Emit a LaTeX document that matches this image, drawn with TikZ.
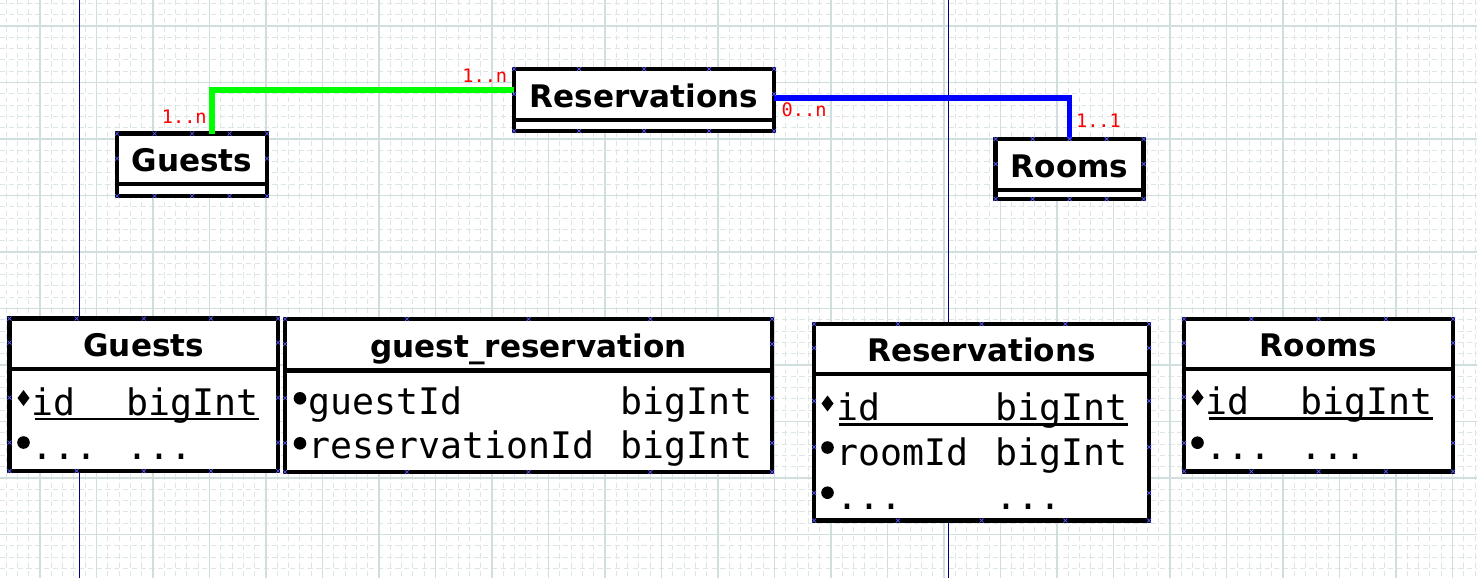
\documentclass[tikz,border=0pt]{standalone}
\usepackage{fontspec}
\setsansfont{DejaVu Sans}
\setmonofont{DejaVu Sans Mono}
\usetikzlibrary{calc}

\newlength\px
\setlength\px{0.02cm}

\definecolor{gridmajor}{RGB}{208,222,222}
\definecolor{gridminor}{RGB}{220,230,230}
\definecolor{pageline}{RGB}{0,0,139}
\definecolor{cpblue}{RGB}{90,90,255}

\tikzset{
  entity/.style={draw=black, fill=white, line width=2.8pt, outer sep=0pt, inner sep=0pt},
  header/.style={anchor=base, inner sep=0pt, font=\sffamily\bfseries\fontsize{17.7}{20}\selectfont},
  attr/.style={anchor=base west, inner sep=0pt, font=\ttfamily\fontsize{20.8}{24}\selectfont},
  card/.style={anchor=base west, inner sep=0pt, text=red, font=\ttfamily\fontsize{10.6}{12}\selectfont},
  link/.style={line width=3.3pt},
  sepline/.style={line width=2.8pt},
  uline/.style={line width=1.2pt},
  cpmark/.style={draw=cpblue, line width=0.4pt},
  minorline/.style={draw=gridminor, line width=0.6pt, dash pattern=on 3pt off 2pt},
  majorline/.style={draw=gridmajor, line width=0.6pt},
}

% small markers
\newcommand\cpt[1]{\draw[cpmark] (#1) +(-2,-2) -- +(2,2) +(-2,2) -- +(2,-2);}
\newcommand\boxmarks[2]{%
  \foreach \f in {0,0.25,0.5,0.75,1} {\cpt{$(#1.north west)!\f!(#1.north east)$}\cpt{$(#1.south west)!\f!(#1.south east)$}}
  \foreach \d in {#2} {\cpt{$(#1.north west)+(0,\d)$}\cpt{$(#1.north east)+(0,\d)$}}}
\newcommand\keymark[1]{\fill (#1) +(0,-8) -- +(6,0) -- +(0,8) -- +(-6,0) -- cycle;}
\newcommand\dotmark[1]{\fill (#1) circle[radius=6.3];}

\begin{document}
\begin{tikzpicture}[x=0.02cm, y=-0.02cm]
  \useasboundingbox (0,0) rectangle (1477,578);
  \fill[white] (0,0) rectangle (1477,578);
  % Grid
  \foreach \i in {0,...,130} \draw[minorline] (6.1+11.3*\i,0) -- (6.1+11.3*\i,578);
  \foreach \j in {0,...,50} \draw[minorline] (0,3.4+11.3*\j) -- (1477,3.4+11.3*\j);
  \foreach \i in {0,...,25} \draw[majorline] (40+56.5*\i,0) -- (40+56.5*\i,578);
  \foreach \j in {0,...,9} \draw[majorline] (0,26+56.5*\j) -- (1477,26+56.5*\j);
  \draw[pageline, line width=0.7pt] (79.3,0) -- (79.3,578);
  \draw[pageline, line width=0.7pt] (948.3,0) -- (948.3,578);

  % Entities
  \node[entity, minimum width=260\px, minimum height=62\px] (resTop) at (644,100) {};
  \draw[sepline] ($(resTop.north west)+(0,51)$) -- ($(resTop.north east)+(0,51)$);
  \node[header] (resTopHd) at ($(resTop.north)+(0,38.3)$) {Reservations};
  \node[entity, minimum width=150\px, minimum height=62.5\px] (guestsTop) at (192,164.75) {};
  \draw[sepline] ($(guestsTop.north west)+(0,50.5)$) -- ($(guestsTop.north east)+(0,50.5)$);
  \node[header] (guestsTopHd) at ($(guestsTop.north)+(0,38)$) {Guests};
  \node[entity, minimum width=148\px, minimum height=60\px] (roomsTop) at (1069.5,169) {};
  \draw[sepline] ($(roomsTop.north west)+(0,51)$) -- ($(roomsTop.north east)+(0,51)$);
  \node[header] (roomsTopHd) at ($(roomsTop.north)+(0,38)$) {Rooms};

  % Relations
  \draw[link, draw={rgb,255:red,0;green,255;blue,0}] ($(guestsTop.north)+(20.3,0)$) |- ($(resTop.north west)+(0,21)$);
  \draw[link, draw={rgb,255:red,0;green,0;blue,255}] ($(resTop.north east)+(0,28.7)$) -| (roomsTop.north);
  \node[card] (guestsCard) at (161.5,123.3) {1..n};
  \node[card] (resCardG) at (462,82.7) {1..n};
  \node[card] (resCardR) at (781.3,116.7) {0..n};
  \node[card] (roomsCard) at (1075.7,127.3) {1..1};

  % Guests table
  \node[entity, minimum width=268.5\px, minimum height=152.5\px] (guestsTab) at (143.75,394.75) {};
  \draw[sepline] ($(guestsTab.north west)+(0,50.5)$) -- ($(guestsTab.north east)+(0,50.5)$);
  \node[header] (guestsTabHd) at ($(guestsTab.north)+(0,37.5)$) {Guests};
  \keymark{$(guestsTab.north west)+(14,79.5)$}
  \node[attr] (guestsId) at ($(guestsTab.north west)+(22,96.5)$) {id};
  \node[attr] (guestsIdType) at ($(guestsTab.north west)+(116.5,96.5)$) {bigInt};
  \draw[uline] ($(guestsId.base west)+(3,4)$) -- ($(guestsIdType.base east)+(0,4)$);
  \dotmark{$(guestsTab.north west)+(14,124)$}
  \node[attr] (guestsMore) at ($(guestsTab.north west)+(22,141)$) {...};
  \node[attr] (guestsMoreType) at ($(guestsTab.north west)+(116.5,141)$) {...};

  % guest_reservation table
  \node[entity, minimum width=487\px, minimum height=153\px] (guestResTab) at (528.5,395.5) {};
  \draw[sepline] ($(guestResTab.north west)+(0,51.5)$) -- ($(guestResTab.north east)+(0,51.5)$);
  \node[header] (guestResTabHd) at ($(guestResTab.north)+(0,38)$) {guest\_reservation};
  \dotmark{$(guestResTab.north west)+(15,79.3)$}
  \node[attr] (guestResGuest) at ($(guestResTab.north west)+(23.5,95.5)$) {guestId};
  \node[attr] (guestResGuestType) at ($(guestResTab.north west)+(334.7,95.5)$) {bigInt};
  \dotmark{$(guestResTab.north west)+(15,124.3)$}
  \node[attr] (guestResRes) at ($(guestResTab.north west)+(23.5,139.5)$) {reservationId};
  \node[attr] (guestResResType) at ($(guestResTab.north west)+(334.7,139.5)$) {bigInt};

  % Reservations table
  \node[entity, minimum width=335\px, minimum height=196.5\px] (resTab) at (981.5,422.25) {};
  \draw[sepline] ($(resTab.north west)+(0,50)$) -- ($(resTab.north east)+(0,50)$);
  \node[header] (resTabHd) at ($(resTab.north)+(0,37.5)$) {Reservations};
  \keymark{$(resTab.north west)+(13.5,79.5)$}
  \node[attr] (resId) at ($(resTab.north west)+(22,96.5)$) {id};
  \node[attr] (resIdType) at ($(resTab.north west)+(181,96.5)$) {bigInt};
  \draw[uline] ($(resId.base west)+(3,4)$) -- ($(resIdType.base east)+(0,4)$);
  \dotmark{$(resTab.north west)+(13.5,123.5)$}
  \node[attr] (resRoom) at ($(resTab.north west)+(22,141)$) {roomId};
  \node[attr] (resRoomType) at ($(resTab.north west)+(181,141)$) {bigInt};
  \dotmark{$(resTab.north west)+(13.5,168.7)$}
  \node[attr] (resMore) at ($(resTab.north west)+(22,185.5)$) {...};
  \node[attr] (resMoreType) at ($(resTab.north west)+(181,185.5)$) {...};

  % Rooms table
  \node[entity, minimum width=269\px, minimum height=152.5\px] (roomsTab) at (1318.5,395.25) {};
  \draw[sepline] ($(roomsTab.north west)+(0,50)$) -- ($(roomsTab.north east)+(0,50)$);
  \node[header] (roomsTabHd) at ($(roomsTab.north)+(0,37.4)$) {Rooms};
  \keymark{$(roomsTab.north west)+(13.5,78.5)$}
  \node[attr] (roomsId) at ($(roomsTab.north west)+(21.5,95.5)$) {id};
  \node[attr] (roomsIdType) at ($(roomsTab.north west)+(116.5,95.5)$) {bigInt};
  \draw[uline] ($(roomsId.base west)+(3,4)$) -- ($(roomsIdType.base east)+(0,4)$);
  \dotmark{$(roomsTab.north west)+(13.5,123.7)$}
  \node[attr] (roomsMore) at ($(roomsTab.north west)+(21.5,140.5)$) {...};
  \node[attr] (roomsMoreType) at ($(roomsTab.north west)+(116.5,140.5)$) {...};

  % Connection points
  \boxmarks{resTop}{25}
  \boxmarks{guestsTop}{25}
  \boxmarks{roomsTop}{25}
  \boxmarks{guestsTab}{24,79,124}
  \boxmarks{guestResTab}{25,79,124}
  \boxmarks{resTab}{24,77,123,169}
  \boxmarks{roomsTab}{24,78,124}
\end{tikzpicture}
\end{document}
